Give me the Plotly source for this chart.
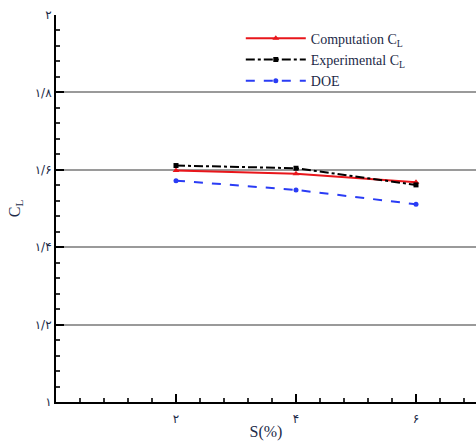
import plotly.graph_objects as go

s_vals = [2, 4, 6]
computation_cl = [1.598, 1.590, 1.568]
experimental_cl = [1.611, 1.604, 1.561]
doe_cl = [1.572, 1.548, 1.511]

x_tickvals = [2, 4, 6]
x_ticktext = ["۲", "۴", "۶"]
y_tickvals = [1.0, 1.2, 1.4, 1.6, 1.8, 2.0]
y_ticktext = ["۱", "۱/۲", "۱/۴", "۱/۶", "۱/۸", "۲"]

fig = go.Figure()
fig.add_trace(go.Scatter(x=s_vals, y=computation_cl, name="Computation C<sub>L</sub>",
                         mode="lines+markers",
                         line=dict(color="#e8161b", width=2),
                         marker=dict(symbol="triangle-up", size=6, color="#e8161b")))
fig.add_trace(go.Scatter(x=s_vals, y=experimental_cl, name="Experimental C<sub>L</sub>",
                         mode="lines+markers",
                         line=dict(color="black", width=2, dash="dashdot"),
                         marker=dict(symbol="square", size=5, color="black")))
fig.add_trace(go.Scatter(x=s_vals, y=doe_cl, name="DOE",
                         mode="lines+markers",
                         line=dict(color="#2a3cf5", width=2, dash="dash"),
                         marker=dict(symbol="circle", size=5, color="#2a3cf5")))

serif = "Liberation Serif, Times New Roman, DejaVu Serif, serif"
fig.update_layout(
    width=476, height=441,
    margin=dict(l=56, r=0, t=15, b=39),
    paper_bgcolor="white", plot_bgcolor="white",
    font=dict(family=serif, color="#1c2a48"),
    legend=dict(x=0.44, y=0.98, xanchor="left", yanchor="top",
                bgcolor="rgba(0,0,0,0)", font=dict(family=serif, size=14, color="#1c2a48"),
                tracegroupgap=0, itemwidth=60),
    showlegend=True,
)
fig.update_xaxes(
    range=[0, 7], tickvals=x_tickvals, ticktext=x_ticktext,
    showline=True, linecolor="black", linewidth=2,
    ticks="inside", ticklen=8, tickwidth=1.5, tickcolor="black",
    minor=dict(ticks="inside", ticklen=4, tick0=0, dtick=0.4, tickcolor="#333", showgrid=False),
    showgrid=False, zeroline=False, ticklabelstandoff=5,
    tickfont=dict(family="DejaVu Sans", size=12, color="#1c2a48"),
    title=dict(text="S(%)", font=dict(family=serif, size=16, color="#1c2a48"), standoff=4),
)
fig.update_yaxes(
    range=[1, 2], tickvals=y_tickvals, ticktext=y_ticktext,
    showline=True, linecolor="black", linewidth=2,
    ticks="inside", ticklen=8, tickwidth=1.5, tickcolor="black",
    minor=dict(ticks="inside", ticklen=4, tick0=1, dtick=0.04, tickcolor="#333", showgrid=False),
    showgrid=True, gridcolor="#9a9a9a", gridwidth=1.5, zeroline=False,
    tickfont=dict(family="DejaVu Sans", size=12, color="#1c2a48"),
    title=dict(text="C<sub>L</sub>", font=dict(family=serif, size=16, color="#1c2a48"), standoff=10),
)
fig.write_html("out.html")
